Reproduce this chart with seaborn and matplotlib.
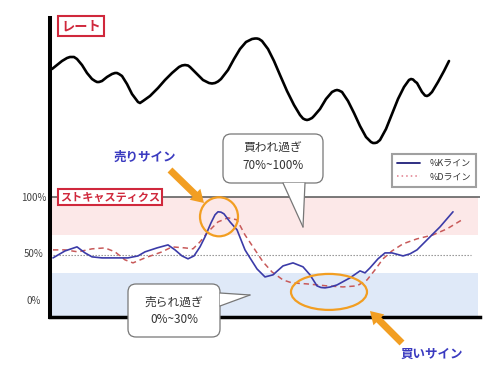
import numpy as np
import pandas as pd
import matplotlib
matplotlib.use("Agg")
import matplotlib.pyplot as plt
import seaborn as sns
from matplotlib.patches import Ellipse, FancyArrowPatch, FancyBboxPatch, Polygon
from matplotlib.lines import Line2D
from matplotlib.transforms import Affine2D

### data
# rate (top panel)
rate_t = [2, 7, 12, 17, 20, 22, 24, 27, 32, 37, 42, 45, 47, 49, 52, 57, 62, 65,
          67, 69, 72, 77, 82, 88, 90, 93, 100, 108, 115, 122, 129, 132, 135, 138,
          140, 146, 153, 159, 162, 165, 168, 171, 178, 184, 190, 196, 202, 205,
          207, 209, 212, 218, 224, 230, 237, 244, 250, 253, 255, 257, 259, 262,
          264, 270, 276, 282, 285, 287, 289, 292, 298, 304, 310, 316, 321, 323,
          325, 327, 330, 336, 342, 348, 354, 359, 361, 363, 365, 367, 372, 375,
          377, 379, 382, 388, 394, 399]
rate = [109.1, 109.5, 109.9, 110.2, 110.3, 110.3, 110.3, 110.1, 109.5, 108.7,
        108.1, 107.9, 107.8, 107.8, 107.9, 108.3, 108.6, 108.7, 108.7, 108.6,
        108.4, 107.6, 106.6, 105.8, 105.7, 105.9, 106.4, 107.2, 108.0, 108.7,
        109.3, 109.45, 109.5, 109.45, 109.3, 108.7, 108.0, 107.7, 107.65, 107.7,
        107.85, 108.1, 109.0, 110.1, 111.1, 111.8, 112.1, 112.15, 112.15, 112.1,
        111.9, 111.1, 109.9, 108.5, 106.9, 105.5, 104.5, 104.15, 104.05, 104.0,
        104.05, 104.2, 104.4, 105.1, 106.1, 106.8, 106.95, 107.0, 106.95, 106.8,
        105.9, 104.7, 103.4, 102.3, 101.8, 101.7, 101.7, 101.75, 102.0, 103.1,
        104.6, 106.1, 107.3, 108.0, 108.1, 108.05, 107.85, 107.7, 106.8, 106.45,
        106.4, 106.5, 106.8, 107.8, 108.9, 109.9]

# %K line
k_t = [3, 15, 27, 35, 42, 52, 62, 78, 88, 95, 107, 118, 125, 132, 138, 144, 150,
       155, 161, 165, 168, 171, 174, 180, 187, 195, 200, 207, 215, 223, 233, 243,
       253, 260, 267, 271, 275, 280, 287, 300, 310, 315, 320, 328, 335, 342, 353,
       360, 367, 380, 390, 403]
k_val = [47.4, 53.4, 56.9, 51.7, 48.3, 47.4, 47.4, 47.4, 49.1, 52.6, 56.0, 58.6,
         54.3, 49.1, 46.6, 49.1, 56.9, 65.5, 77.6, 84.5, 87.1, 86.8, 85.3, 78.4,
         71.6, 54.3, 47.4, 37.9, 31.0, 32.8, 40.5, 43.1, 39.7, 32.8, 23.3, 21.9,
         21.6, 22.3, 24.1, 30.2, 36.2, 34.5, 38.8, 46.6, 51.7, 51.7, 49.1, 50.9,
         54.3, 65.5, 74.1, 87.1]

# %D line
d_t = [3, 15, 28, 42, 55, 65, 75, 83, 95, 112, 122, 135, 143, 150, 158, 168, 178,
       187, 195, 205, 213, 222, 233, 242, 257, 277, 293, 307, 317, 325, 333, 342,
       353, 367, 383, 397, 412]
d_val = [54.3, 54.3, 52.6, 55.2, 56.0, 52.6, 45.7, 43.1, 47.4, 52.6, 56.9, 56.0,
         55.2, 61.2, 69.8, 78.4, 81.9, 80.2, 67.2, 54.3, 44.0, 35.3, 28.4, 25.9,
         25.0, 23.3, 22.4, 23.3, 28.4, 37.1, 46.6, 53.4, 59.5, 63.8, 67.2, 72.4,
         80.2]

ytick_pos = [100, 52, 11]
ytick_labels = ["100%", "50%", "0%"]

sns.set_theme(style="white")
plt.rcParams['font.family'] = ['Noto Sans CJK JP', 'DejaVu Sans']

RED = "#d0283c"
BLUE_TXT = "#3a3ac0"
ORANGE = "#f29e22"
K_COL = "#3b3ba8"
D_COL = "#c85a5a"

fig = plt.figure(figsize=(5, 3.71), dpi=100)
# image-pixel transform (origin top-left)
img = Affine2D().scale(1, -1).translate(0, 371)

ax = fig.add_axes([0.1, 1 - 317 / 371, 0.86, (317 - 18) / 371])
ax.set_xlim(0, 430)
ax.set_ylim(-3.5, 254)

# zones
ax.axhspan(67, 100, xmax=0.995, color="#fce8e8", lw=0, zorder=0)
ax.axhspan(-3.5, 34, xmax=0.995, color="#dfe9f8", lw=0, zorder=0)
ax.axhline(100, color="#555555", lw=1.1, zorder=1)
ax.axhline(50, xmax=0.98, color="#888888", lw=0.8, ls=(0, (1.2, 1.5)), zorder=1)

kdf = pd.DataFrame({"t": k_t, "v": k_val})
ddf = pd.DataFrame({"t": d_t, "v": d_val})
sns.lineplot(data=ddf, x="t", y="v", ax=ax, color=D_COL, lw=1.1,
             linestyle=(0, (3.5, 2.5)), zorder=3)
sns.lineplot(data=kdf, x="t", y="v", ax=ax, color=K_COL, lw=1.2, zorder=4)

ax.add_patch(Ellipse((169, 82.8), 38, 33.6, fill=False, ec=ORANGE, lw=1.6, zorder=5))
ax.add_patch(Ellipse((279, 18.1), 76, 31, fill=False, ec=ORANGE, lw=1.6, zorder=5))

for s in ["top", "right"]:
    ax.spines[s].set_visible(False)
ax.spines["left"].set_linewidth(2.9)
ax.spines["bottom"].set_linewidth(2.5)
ax.spines["left"].set_color("black")
ax.spines["bottom"].set_color("black")
ax.set_xticks([])
ax.set_yticks(ytick_pos, ytick_labels)
ax.tick_params(axis="y", length=0, pad=12, labelsize=7, labelcolor="#444444")
for lab in ax.get_yticklabels():
    lab.set_ha("center")
ax.set_xlabel("")
ax.set_ylabel("")

# rate panel
ax2 = ax.twinx()
ax2.set_ylim(84.3, 114.2)
rdf = pd.DataFrame({"t": rate_t, "v": rate})
sns.lineplot(data=rdf, x="t", y="v", ax=ax2, color="black", lw=1.9)
for s in ax2.spines.values():
    s.set_visible(False)
ax2.set_yticks([])
ax2.set_ylabel("")

for line in ax.get_lines() + ax2.get_lines():
    line.set_solid_joinstyle("round")
    line.set_dash_joinstyle("round")
    line.set_solid_capstyle("round")

# labels
fig.text(81, 26, "レート", transform=img, ha="center", va="center",
         fontsize=9.5, fontweight="bold", color=RED,
         bbox=dict(boxstyle="square,pad=0.25", fc="white", ec=RED, lw=1.5))
fig.text(110, 197, "ストキャスティクス", transform=img, ha="center", va="center",
         fontsize=8, fontweight="bold", color=RED,
         bbox=dict(boxstyle="square,pad=0.15", fc="white", ec=RED, lw=1.5))
fig.text(145, 157, "売りサイン", transform=img, ha="center", va="center",
         fontsize=9, fontweight="bold", color=BLUE_TXT)
fig.text(432, 354, "買いサイン", transform=img, ha="center", va="center",
         fontsize=9, fontweight="bold", color=BLUE_TXT)

# arrows
for tail, head in [((170, 170), (204, 203)), ((402, 343), (370, 311))]:
    fig.add_artist(FancyArrowPatch(tail, head, transform=img,
                                   arrowstyle="simple,head_width=11,head_length=9,tail_width=5",
                                   mutation_scale=1, color=ORANGE, lw=0,
                                   shrinkA=0, shrinkB=0, zorder=6))


# speech bubbles
def bubble(x0, y0, w, h, base1, base2, tip, text, cx, cy):
    fig.add_artist(FancyBboxPatch((x0, y0), w, h, transform=img,
                                  boxstyle="round,pad=0,rounding_size=8",
                                  fc="white", ec="#777777", lw=0.9, zorder=7))
    fig.add_artist(Polygon([base1, base2, tip], closed=True, transform=img,
                           fc="white", ec="none", zorder=8))
    for b in (base1, base2):
        fig.add_artist(Line2D([b[0], tip[0]], [b[1], tip[1]], transform=img,
                              color="#777777", lw=0.9, zorder=9))
    fig.text(cx, cy, text, transform=img, ha="center", va="center",
             fontsize=8.5, color="#333333", linespacing=1.4, zorder=10)


bubble(223, 134, 100, 49, (283, 183), (305, 183), (303, 227),
       "買われ過ぎ\n70%~100%", 273, 157)
bubble(128, 284, 92, 53, (220, 293), (220, 306), (250, 295),
       "売られ過ぎ\n0%~30%", 174, 311)

# legend
handles = [Line2D([], [], color="#1f1f7a", lw=1.3),
           Line2D([], [], color="#e07a8a", lw=1.1, ls=(0, (1, 2)))]
leg = fig.legend(handles, ["%Kライン", "%Dライン"], loc="upper left",
                 bbox_to_anchor=(387 / 500, 1 - 149 / 371), fontsize=6.5,
                 frameon=True, fancybox=False, handlelength=2.6,
                 borderpad=0.6, labelspacing=0.5, handletextpad=1.0)
leg.get_frame().set_edgecolor("#888888")
leg.get_frame().set_linewidth(1.5)
for t in leg.get_texts():
    t.set_color("#333333")

fig.savefig("out.png", dpi=100)
